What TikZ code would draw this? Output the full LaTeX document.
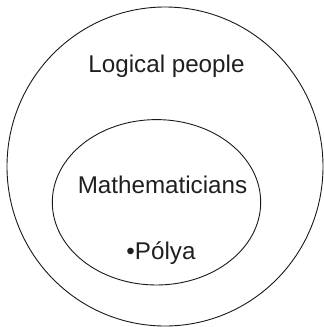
\documentclass[tikz,border=0pt]{standalone}
\usepackage{fontspec}
\setmainfont{Liberation Sans}
\usetikzlibrary{shapes.geometric}
\begin{document}
\begin{tikzpicture}[x=1bp,y=-1bp,
  setline/.style={draw=black!90, line width=0.9bp},
  lbl/.style={anchor=base, inner sep=0pt, text=black!88, font=\fontsize{24.2bp}{28bp}\selectfont}]
\useasboundingbox (0,0) rectangle (324,327);
\draw[setline] (165,166.5) ellipse [x radius=158, y radius=159.5];
\draw[setline] (156.5,202.3) ellipse [x radius=104.2, y radius=82.7];
\node[lbl] (logical) at (166.5,72) {Logical people};
\node[lbl] (math) at (162.5,193) {Mathematicians};
\node[lbl] (polya) at (161,259) {•Pólya};
\end{tikzpicture}
\end{document}
